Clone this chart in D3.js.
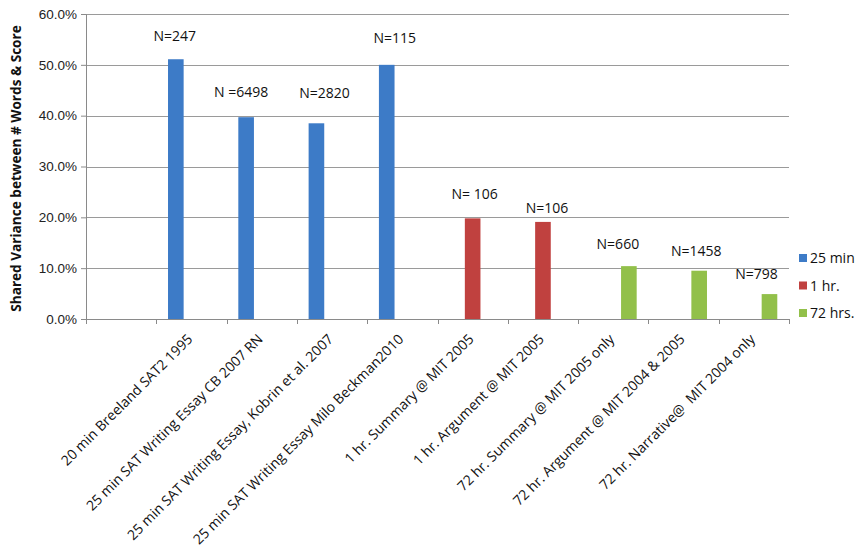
<!DOCTYPE html>
<html>
<head>
<meta charset="utf-8">
<script src="https://cdn.jsdelivr.net/npm/d3@7"></script>
<style>
  html, body { margin: 0; padding: 0; background: #fff; }
  svg { display: block; font-family: "Open Sans", "Noto Sans", sans-serif; }
  .cat { white-space: pre; }
</style>
</head>
<body>
<svg id="chart" width="858" height="551"></svg>
<script>
// Study categories (the first slot is intentionally blank)
const categories = [
  "",
  "20 min Breeland SAT2 1995",
  "25 min SAT Writing Essay CB 2007 RN",
  "25 min SAT Writing Essay, Kobrin et al. 2007",
  "25 min SAT Writing Essay Milo Beckman2010",
  "1 hr. Summary @ MIT 2005",
  "1 hr. Argument @ MIT 2005",
  "72 hr. Summary @ MIT 2005 only",
  "72 hr. Argument @ MIT 2004 & 2005",
  "72 hr. Narrative@  MIT 2004 only"
];

// Shared variance per series (null = no bar)
const seriesNames = ["25 min", "1 hr.", "72 hrs."];
const min25 = [null, 0.511, 0.397, 0.385, 0.500, null, null, null, null, null];
const hr1   = [null, null, null, null, null, 0.198, 0.191, null, null, null];
const hrs72 = [null, null, null, null, null, null, null, 0.104, 0.095, 0.049];

// Sample-size notes attached to each study
const sampleLabels = [null, "N=247", "N =6498", "N=2820", "N=115", "N= 106", "N=106", "N=660", "N=1458", "N=798"];
// Note placement relative to its bar: [dx, dy] in px
const noteShift = [null, [-1, -18], [-5, -20], [8, -25], [8, -22], [2, -19], [4, -9], [-11, -17], [-3, -15], [-13, -15]];

const yTicks = [0, 0.1, 0.2, 0.3, 0.4, 0.5, 0.6];
const colors = ["#3d7bc7", "#c0413f", "#92c04a"];

const svg = d3.select("#chart");
const margin = { left: 86, right: 69, top: 14, bottom: 232 };
const W = 858, H = 551;
const plotW = W - margin.left - margin.right;
const plotH = H - margin.top - margin.bottom;

const g = svg.append("g").attr("transform", `translate(${margin.left},${margin.top})`);

const x = d3.scaleBand().domain(d3.range(categories.length)).range([0, plotW]).paddingInner(0).paddingOuter(0);
const x1 = d3.scaleBand().domain(d3.range(seriesNames.length)).range([x.bandwidth() * 1/6, x.bandwidth() * 5/6]);
const y = d3.scaleLinear().domain([0, 0.6]).range([plotH, 0]);

// Horizontal gridlines
g.append("g")
  .selectAll("line")
  .data(yTicks.filter(t => t > 0))
  .join("line")
  .attr("x1", 0).attr("x2", plotW)
  .attr("y1", d => Math.round(y(d)) + 0.5).attr("y2", d => Math.round(y(d)) + 0.5)
  .attr("stroke", "#9a9a9a").attr("stroke-width", 1);

// Y axis
const yAxis = g.append("g")
  .call(d3.axisLeft(y).tickValues(yTicks).tickFormat(d3.format(".1%")).tickSize(5).tickPadding(4));
yAxis.select(".domain").attr("stroke", "#8a8a8a");
yAxis.selectAll(".tick line").attr("stroke", "#8a8a8a");
yAxis.selectAll("text").attr("font-size", 13.5).attr("fill", "#222");

// X axis with category boundary ticks
const xg = g.append("g").attr("transform", `translate(0,${plotH})`);
xg.append("line").attr("x1", 0).attr("x2", plotW).attr("y1", 0.5).attr("y2", 0.5).attr("stroke", "#8a8a8a");
xg.selectAll("line.tk")
  .data(d3.range(categories.length + 1))
  .join("line").attr("class", "tk")
  .attr("x1", i => Math.round(i * x.step()) + 0.5).attr("x2", i => Math.round(i * x.step()) + 0.5)
  .attr("y1", 0).attr("y2", 5).attr("stroke", "#8a8a8a");

xg.selectAll("text.cat")
  .data(categories)
  .join("text").attr("class", "cat")
  .attr("transform", (d, i) => `translate(${x(i) + x.bandwidth() / 2 + 2},${21}) rotate(-45)`)
  .attr("text-anchor", "end")
  .attr("font-size", 14)
  .attr("fill", "#111")
  .text(d => d);

// Bars
const seriesData = [min25, hr1, hrs72];
seriesData.forEach((vals, s) => {
  g.append("g")
    .selectAll("rect")
    .data(vals.map((v, i) => ({ v, i })).filter(d => d.v != null))
    .join("rect")
    .attr("x", d => x(d.i) + x1(s))
    .attr("width", x1.bandwidth())
    .attr("y", d => y(d.v))
    .attr("height", d => y(0) - y(d.v))
    .attr("fill", colors[s]);
});

// Sample-size notes above bars
const barInfo = categories.map((c, i) => {
  const s = seriesData.findIndex(arr => arr[i] != null);
  return s < 0 ? null : { i, s, v: seriesData[s][i] };
});
g.append("g")
  .selectAll("text")
  .data(barInfo.filter(d => d && sampleLabels[d.i]))
  .join("text")
  .attr("x", d => x(d.i) + x1(d.s) + x1.bandwidth() / 2 + noteShift[d.i][0])
  .attr("y", d => y(d.v) + noteShift[d.i][1])
  .attr("text-anchor", "middle")
  .attr("font-size", 14)
  .attr("fill", "#111")
  .text(d => sampleLabels[d.i]);

// Y axis title
svg.append("text")
  .attr("transform", `translate(21,${margin.top + plotH / 2 + 2}) rotate(-90)`)
  .attr("text-anchor", "middle")
  .attr("font-size", 13.6)
  .attr("font-weight", "bold")
  .attr("fill", "#111")
  .text("Shared Variance between # Words & Score");

// Legend
const legend = svg.append("g").attr("transform", "translate(799,258)");
seriesNames.forEach((name, s) => {
  const row = legend.append("g").attr("transform", `translate(0,${s * 27.5})`);
  row.append("rect").attr("x", 0).attr("y", -4).attr("width", 8).attr("height", 8).attr("fill", colors[s]);
  row.append("text").attr("x", 11).attr("y", 5).attr("font-size", 14).attr("fill", "#111").text(name);
});
</script>
</body>
</html>
